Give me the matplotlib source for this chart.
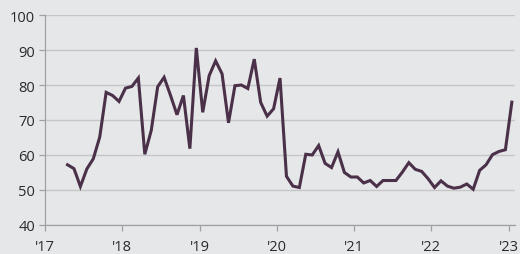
import numpy as np
import matplotlib
matplotlib.use('Agg')
import matplotlib.pyplot as plt

plt.rcParams['font.family'] = ['Open Sans', 'DejaVu Sans']

# monthly values, Apr 2017 .. Jan 2023
start_year = 2017
start_month = 4
values = [
    57.2, 56.1, 51.0, 56.0, 58.9, 65.1, 77.9, 77.0, 75.3,                 # 2017 Apr-Dec
    79.1, 79.6, 82.0, 60.2, 67.0, 79.5, 82.2, 77.0, 71.5, 77.0, 61.8, 90.6,  # 2018
    72.2, 82.7, 86.9, 83.2, 69.2, 79.8, 80.0, 79.0, 87.4, 75.0, 71.1, 73.2,  # 2019
    82.0, 53.9, 51.1, 50.7, 60.2, 60.0, 62.7, 57.6, 56.4, 60.9, 55.0, 53.7,  # 2020
    53.7, 52.0, 52.7, 51.0, 52.7, 52.7, 52.7, 55.1, 57.8, 55.9, 55.3, 53.2,  # 2021
    50.7, 52.6, 51.1, 50.5, 50.8, 51.7, 50.2, 55.6, 57.2, 60.1, 61.0, 61.5,  # 2022
    75.1,                                                                 # 2023 Jan
]
year_ticks = [2017, 2018, 2019, 2020, 2021, 2022, 2023]
year_labels = ["'17", "'18", "'19", "'20", "'21", "'22", "'23"]
y_ticks = [40, 50, 60, 70, 80, 90, 100]

# mid-month positions
months = np.arange(len(values)) + (start_month - 1)
x = start_year + (months + 0.5) / 12

bg = '#e6e7e9'
fig = plt.figure(figsize=(5.2, 2.55), dpi=100, facecolor=bg)
ax = fig.add_axes([0.0865, 0.114, 0.9035, 0.823], facecolor=bg)

ax.plot(x, values, color='#4a3048', linewidth=2.2, solid_joinstyle='miter', zorder=3)

ax.set_xlim(2017, 2023.08)
ax.set_ylim(40, 100)
ax.set_xticks(year_ticks)
ax.set_xticklabels(year_labels)
ax.set_yticks(y_ticks)

ax.grid(axis='y', color='#c6c6c8', linewidth=1.0)
ax.set_axisbelow(True)
for s in ['top', 'right']:
    ax.spines[s].set_visible(False)
for s in ['left', 'bottom']:
    ax.spines[s].set_color('#a0a0a0')
    ax.spines[s].set_linewidth(0.9)

ax.tick_params(axis='both', colors='#a0a0a0', labelcolor='#2a2a2a', labelsize=10.5, length=4, width=0.9)
ax.tick_params(axis='y', length=4, pad=3)
ax.tick_params(axis='x', pad=6)

plt.savefig('out.png', dpi=100, facecolor=bg)
